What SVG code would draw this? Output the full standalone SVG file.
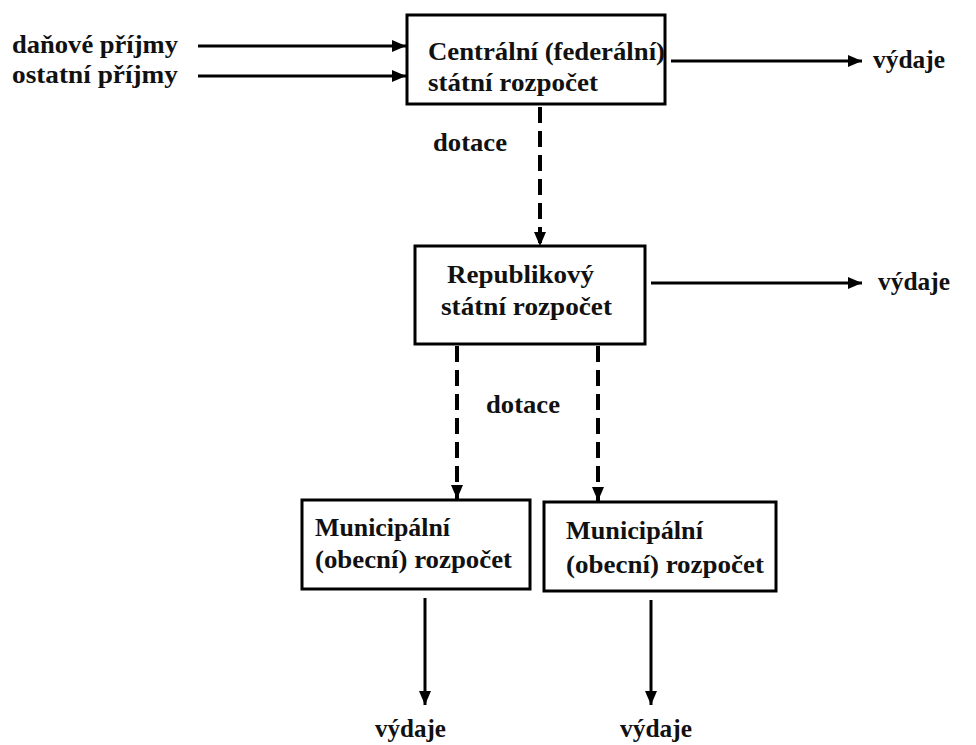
<svg xmlns="http://www.w3.org/2000/svg" width="976" height="745" viewBox="0 0 976 745">
<defs>
<marker id="ah" viewBox="0 0 14 12" refX="14" refY="6" markerWidth="14" markerHeight="12" markerUnits="userSpaceOnUse" orient="auto">
<path d="M0,0 L14,6 L0,12 z" fill="#000"/>
</marker>
<style>
.t{font-family:'Liberation Serif','Times New Roman',serif;font-weight:bold;font-size:26px;fill:#111}
.box{fill:#fff;stroke:#000;stroke-width:3}
.solid{stroke:#000;stroke-width:3;fill:none}
.dash{stroke:#000;stroke-width:4;fill:none;stroke-dasharray:16,8}
</style>
</defs>
<rect width="976" height="745" fill="#fff"/>
<g id="connectors">
<line class="solid" x1="198" y1="46" x2="406" y2="46" marker-end="url(#ah)"/>
<line class="solid" x1="198" y1="76" x2="406" y2="76" marker-end="url(#ah)"/>
<line class="solid" x1="671" y1="61" x2="862" y2="61" marker-end="url(#ah)"/>
<line class="dash" x1="540" y1="107" x2="540" y2="246" marker-end="url(#ah)"/>
<line class="solid" x1="651" y1="283" x2="862" y2="283" marker-end="url(#ah)"/>
<line class="dash" x1="457" y1="346" x2="457" y2="499" marker-end="url(#ah)"/>
<line class="dash" x1="598" y1="346" x2="598" y2="501" marker-end="url(#ah)"/>
<line class="solid" x1="425" y1="598" x2="425" y2="705" marker-end="url(#ah)"/>
<line class="solid" x1="651" y1="600" x2="651" y2="705" marker-end="url(#ah)"/>
</g>
<g id="labels" class="t">
<text x="12" y="53" textLength="166" lengthAdjust="spacingAndGlyphs">daňové příjmy</text>
<text x="12" y="83" textLength="166" lengthAdjust="spacingAndGlyphs">ostatní příjmy</text>
<text x="873" y="68" textLength="72" lengthAdjust="spacingAndGlyphs">výdaje</text>
<text x="433" y="151" textLength="74" lengthAdjust="spacingAndGlyphs">dotace</text>
<text x="878" y="290" textLength="72" lengthAdjust="spacingAndGlyphs">výdaje</text>
<text x="486" y="413" textLength="74" lengthAdjust="spacingAndGlyphs">dotace</text>
<text x="375" y="737" textLength="71" lengthAdjust="spacingAndGlyphs">výdaje</text>
<text x="620" y="737" textLength="72" lengthAdjust="spacingAndGlyphs">výdaje</text>
</g>
<g id="central" class="t">
<rect class="box" x="407" y="15" width="258" height="89"/>
<text x="428" y="60" textLength="237" lengthAdjust="spacingAndGlyphs">Centrální (federální)</text>
<text x="428" y="91" textLength="170" lengthAdjust="spacingAndGlyphs">státní rozpočet</text>
</g>
<g id="republic" class="t">
<rect class="box" x="415" y="246" width="230" height="98"/>
<text x="447" y="283" textLength="147" lengthAdjust="spacingAndGlyphs">Republikový</text>
<text x="441" y="315" textLength="171" lengthAdjust="spacingAndGlyphs">státní rozpočet</text>
</g>
<g id="municipal1" class="t">
<rect class="box" x="302" y="500" width="228" height="89"/>
<text x="315" y="536" textLength="135" lengthAdjust="spacingAndGlyphs">Municipální</text>
<text x="315" y="568" textLength="197" lengthAdjust="spacingAndGlyphs">(obecní) rozpočet</text>
</g>
<g id="municipal2" class="t">
<rect class="box" x="544" y="502" width="232" height="89"/>
<text x="566" y="539" textLength="137" lengthAdjust="spacingAndGlyphs">Municipální</text>
<text x="566" y="573" textLength="198" lengthAdjust="spacingAndGlyphs">(obecní) rozpočet</text>
</g>
</svg>
